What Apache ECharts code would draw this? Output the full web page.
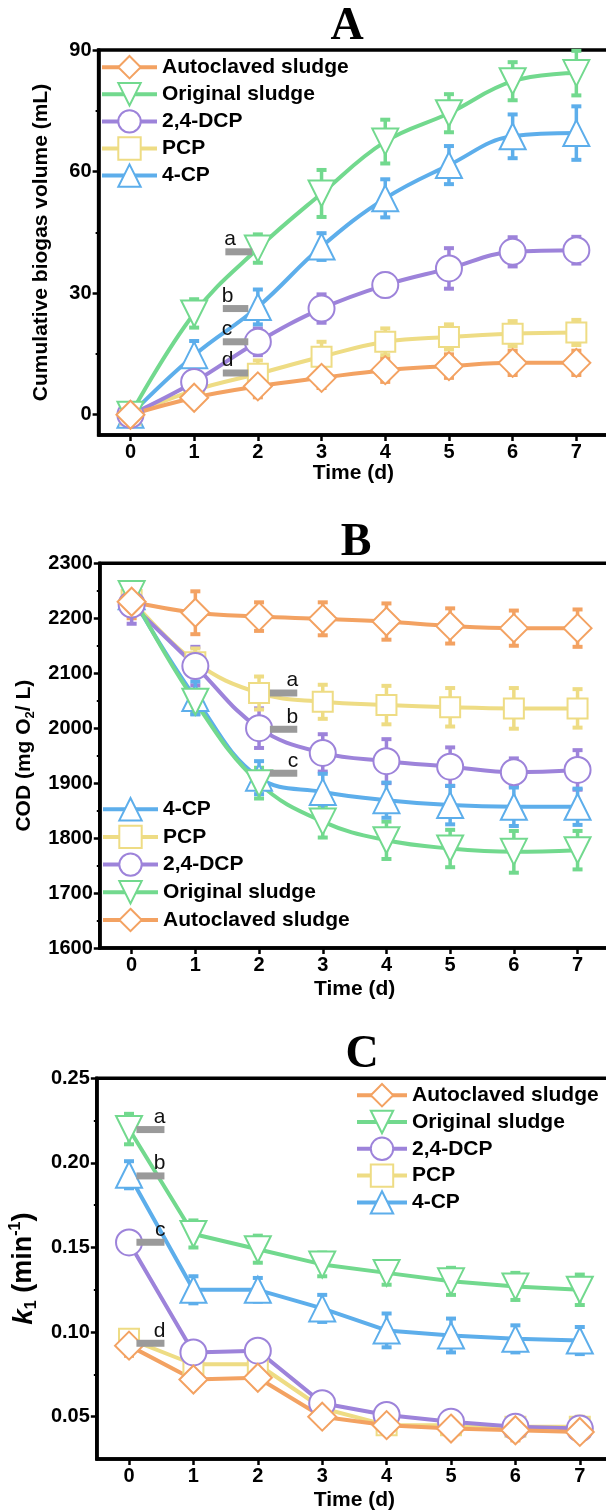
<!DOCTYPE html>
<html>
<head>
<meta charset="utf-8">
<script src="https://cdn.jsdelivr.net/npm/echarts@6/dist/echarts.min.js"></script>
<style>
html,body{margin:0;padding:0;overflow:hidden;background:#fff;}
#chart{width:620px;height:1512px;}
</style>
</head>
<body>
<div id="chart"></div>
<script>
// ---------- data ----------
const days = [0, 1, 2, 3, 4, 5, 6, 7];
const seriesNames = ['Autoclaved sludge', 'Original sludge', '2,4-DCP', 'PCP', '4-CP'];

// Panel A: cumulative biogas volume (mL)
const aAutoclaved    = [0, 4.2, 7.0, 9.1, 11.0, 12.0, 12.8, 12.8];
const aAutoclavedErr = [1.0, 2.0, 2.7, 2.5, 2.9, 2.9, 3.0, 3.0];
const aOriginal      = [0, 25.0, 41.0, 54.6, 67.4, 74.4, 82.3, 84.3];
const aOriginalErr   = [1.0, 3.5, 3.5, 5.8, 5.4, 4.7, 4.7, 5.5];
const aDCP           = [0, 8.1, 18.0, 26.2, 32.0, 36.1, 40.2, 40.6];
const aDCPErr        = [1.0, 3.0, 3.3, 3.5, 2.8, 5.0, 3.6, 3.3];
const aPCP           = [0, 6.0, 10.1, 14.3, 18.0, 19.2, 20.0, 20.3];
const aPCPErr        = [1.0, 2.5, 3.3, 3.7, 3.3, 3.1, 3.1, 3.1];
const aCP            = [0, 14.7, 26.6, 41.5, 53.4, 61.6, 68.7, 69.5];
const aCPErr         = [1.0, 3.5, 4.3, 3.3, 4.7, 4.7, 5.4, 6.6];
const aYTicks        = [0, 30, 60, 90];
const aYMinorTicks   = [15, 45, 75];
const aNoteLetters   = ['a', 'b', 'c', 'd'];
const aNoteY         = [40.2, 26.2, 18.0, 10.3];
const aNoteX1        = [1.49, 1.45, 1.45, 1.45];
const aNoteX2        = [1.91, 1.85, 1.85, 1.85];

// Panel B: COD (mg O2 / L)
const bAutoclaved    = [2230, 2210, 2203, 2199, 2194, 2186, 2182, 2182];
const bAutoclavedErr = [30, 39, 26, 30, 33, 32, 32, 34];
const bOriginal      = [2244, 2048, 1900, 1830, 1796, 1781, 1775, 1778];
const bOriginalErr   = [22, 22, 28, 29, 34, 34, 38, 35];
const bDCP           = [2225, 2113, 2000, 1955, 1940, 1930, 1920, 1924];
const bDCPErr        = [35, 35, 36, 34, 40, 35, 25, 36];
const bPCP           = [2233, 2120, 2064, 2048, 2042, 2038, 2036, 2036];
const bPCPErr        = [25, 25, 30, 31, 35, 35, 37, 35];
const bCP            = [2240, 2055, 1910, 1884, 1869, 1860, 1857, 1857];
const bCPErr         = [20, 30, 30, 33, 32, 35, 35, 33];
const bNoteLetters   = ['a', 'b', 'c'];
const bNoteY         = [2064, 1998, 1918];
const bNoteX1        = [2.17, 2.17, 2.17];
const bNoteX2        = [2.60, 2.60, 2.60];

// Panel C: k1 (min^-1)
const cAutoclaved    = [0.092, 0.072, 0.073, 0.050, 0.045, 0.043, 0.042, 0.041];
const cAutoclavedErr = [0.006, 0.005, 0.005, 0.005, 0.005, 0.005, 0.006, 0.005];
const cOriginal      = [0.220, 0.158, 0.149, 0.140, 0.135, 0.130, 0.127, 0.125];
const cOriginalErr   = [0.009, 0.008, 0.008, 0.007, 0.007, 0.008, 0.008, 0.009];
const cDCP           = [0.153, 0.088, 0.089, 0.058, 0.051, 0.047, 0.044, 0.043];
const cDCPErr        = [0.005, 0.004, 0.004, 0.004, 0.004, 0.005, 0.005, 0.004];
const cPCP           = [0.096, 0.081, 0.081, 0.055, 0.045, 0.045, 0.044, 0.044];
const cPCPErr        = [0.004, 0.004, 0.004, 0.005, 0.005, 0.005, 0.005, 0.006];
const cCP            = [0.193, 0.125, 0.125, 0.114, 0.101, 0.098, 0.096, 0.095];
const cCPErr         = [0.008, 0.008, 0.007, 0.008, 0.010, 0.010, 0.008, 0.008];
const cYTicks        = [0.05, 0.10, 0.15, 0.20, 0.25];
const cYMinorTicks   = [0.075, 0.125, 0.175, 0.225];
const cNoteLetters   = ['a', 'b', 'c', 'd'];
const cNoteY         = [0.2197, 0.1923, 0.1531, 0.0934];
const cNoteX1        = [0.115, 0.115, 0.115, 0.115];
const cNoteX2        = [0.55, 0.55, 0.55, 0.55];

// ---------- styles ----------
const FONT = '"Liberation Sans", Arial, sans-serif';
const styleMap = {
  'Autoclaved sludge': {color: '#F3A262', symbol: 'diamond', size: 28, rotate: 0},
  'Original sludge':   {color: '#72D98E', symbol: 'triangle', size: 26, rotate: 180},
  '2,4-DCP':           {color: '#9D83DA', symbol: 'circle', size: 26, rotate: 0},
  'PCP':               {color: '#EEDC84', symbol: 'rect', size: 20, rotate: 0},
  '4-CP':              {color: '#5DAEEB', symbol: 'triangle', size: 26, rotate: 0}
};

function lineSeries(name, vals, gi, smooth) {
  const s = styleMap[name];
  return {
    type: 'line', name: name, xAxisIndex: gi, yAxisIndex: gi,
    data: days.map((d, i) => [d, vals[i]]),
    smooth: smooth, symbol: s.symbol, symbolSize: s.size, symbolRotate: s.rotate,
    showAllSymbol: true, z: 3,
    lineStyle: {color: s.color, width: 4},
    itemStyle: {color: '#fff', borderColor: s.color, borderWidth: 2},
    emphasis: {disabled: true}, silent: true
  };
}

function errSeries(name, vals, errs, gi) {
  const color = styleMap[name].color;
  return {
    type: 'custom', xAxisIndex: gi, yAxisIndex: gi, silent: true, z: 2,
    data: days.map((d, i) => [d, vals[i], errs[i]]),
    renderItem: function (params, api) {
      const x = api.value(0), y = api.value(1), e = api.value(2);
      const top = api.coord([x, y + e]);
      const bot = api.coord([x, y - e]);
      const w = 5;
      return {
        type: 'group',
        children: [
          {type: 'line', shape: {x1: top[0], y1: top[1], x2: bot[0], y2: bot[1]}, style: {stroke: color, lineWidth: 3.5}},
          {type: 'line', shape: {x1: top[0] - w, y1: top[1], x2: top[0] + w, y2: top[1]}, style: {stroke: color, lineWidth: 4}},
          {type: 'line', shape: {x1: bot[0] - w, y1: bot[1], x2: bot[0] + w, y2: bot[1]}, style: {stroke: color, lineWidth: 4}}
        ]
      };
    }
  };
}

function noteSeries(letters, ys, x1s, x2s, gi, alignRight) {
  return {
    type: 'custom', xAxisIndex: gi, yAxisIndex: gi, silent: true, z: 4,
    data: ys.map((y, i) => [x1s[i], y, x2s[i]]),
    renderItem: function (params, api) {
      const p1 = api.coord([api.value(0), api.value(1)]);
      const p2 = api.coord([api.value(2), api.value(1)]);
      const letter = letters[params.dataIndex];
      return {
        type: 'group',
        children: [
          {type: 'rect', shape: {x: p1[0], y: p1[1] - 3.5, width: p2[0] - p1[0], height: 7}, style: {fill: '#9a9a9a'}},
          {type: 'text', style: {
            text: letter, x: alignRight ? p2[0] + 1 : p1[0] - 1, y: p1[1] - 2,
            align: alignRight ? 'right' : 'left', verticalAlign: 'bottom',
            font: '21px ' + FONT, fill: '#111'
          }}
        ]
      };
    }
  };
}

function xAxisCfg(gi, nameGap) {
  return {
    type: 'value', gridIndex: gi, min: -0.5, max: 7.5,
    axisLine: {show: true, onZero: false, lineStyle: {color: '#000', width: 3.5}},
    axisTick: {show: true, customValues: days, length: 6, inside: false, lineStyle: {color: '#000', width: 2.5}},
    axisLabel: {customValues: days, color: '#000', fontSize: 20, fontWeight: 'bold', fontFamily: FONT, margin: 7},
    splitLine: {show: false},
    name: 'Time (d)', nameLocation: 'middle', nameGap: nameGap,
    nameTextStyle: {color: '#000', fontSize: 21, fontWeight: 'bold', fontFamily: FONT}
  };
}

const axisLineStyle = {show: true, onZero: false, lineStyle: {color: '#000', width: 3.5}};
const legendText = {color: '#000', fontSize: 21, fontWeight: 'bold', fontFamily: FONT};

const option = {
  animation: false,
  backgroundColor: '#fff',
  graphic: [
    {type: 'text', x: 347, y: 27.5, style: {text: 'A', font: 'bold 46px "Liberation Serif", "Times New Roman", serif', fill: '#000', align: 'center', verticalAlign: 'middle'}},
    {type: 'text', x: 356, y: 543, style: {text: 'B', font: 'bold 46px "Liberation Serif", "Times New Roman", serif', fill: '#000', align: 'center', verticalAlign: 'middle'}},
    {type: 'text', x: 362, y: 1055, style: {text: 'C', font: 'bold 46px "Liberation Serif", "Times New Roman", serif', fill: '#000', align: 'center', verticalAlign: 'middle'}}
  ],
  grid: [
    {left: 98.6, top: 50, width: 509.6, height: 385, show: true, borderColor: '#000', borderWidth: 3.5, backgroundColor: 'transparent'},
    {left: 99.8, top: 563.3, width: 509.6, height: 384.7, show: true, borderColor: '#000', borderWidth: 3.5, backgroundColor: 'transparent'},
    {left: 96, top: 1078.3, width: 516, height: 383.4, show: true, borderColor: '#000', borderWidth: 3.5, backgroundColor: 'transparent'}
  ],
  xAxis: [xAxisCfg(0, 28), xAxisCfg(1, 31), xAxisCfg(2, 31)],
  yAxis: [
    {
      type: 'value', gridIndex: 0, min: -5, max: 90,
      axisLine: axisLineStyle,
      axisTick: {show: true, customValues: aYTicks, length: 6, lineStyle: {color: '#000', width: 2.5}},
      axisLabel: {customValues: aYTicks, color: '#000', fontSize: 20, fontWeight: 'bold', fontFamily: FONT, margin: 7},
      splitLine: {show: false},
      name: 'Cumulative biogas volume (mL)', nameLocation: 'middle', nameGap: 47,
      nameTextStyle: {color: '#000', fontSize: 21, fontWeight: 'bold', fontFamily: FONT}
    },
    {
      type: 'value', gridIndex: 1, min: 1600, max: 2300, interval: 100,
      axisLine: axisLineStyle,
      axisTick: {show: true, length: 6, lineStyle: {color: '#000', width: 2.5}},
      minorTick: {show: true, splitNumber: 2, length: 3, lineStyle: {color: '#000', width: 2}},
      axisLabel: {color: '#000', fontSize: 20, fontWeight: 'bold', fontFamily: FONT, margin: 7, formatter: v => String(v)},
      splitLine: {show: false},
      name: '{t|COD (mg O}{sub|2}{t|/ L)}', nameLocation: 'middle', nameGap: 58,
      nameTextStyle: {
        color: '#000', fontSize: 21, fontWeight: 'bold', fontFamily: FONT,
        rich: {
          t: {fontSize: 21, fontWeight: 'bold', fontFamily: FONT, color: '#000', lineHeight: 26},
          sub: {fontSize: 13, fontWeight: 'bold', fontFamily: FONT, color: '#000', verticalAlign: 'bottom', lineHeight: 26}
        }
      }
    },
    {
      type: 'value', gridIndex: 2, min: 0.025, max: 0.25,
      axisLine: axisLineStyle,
      axisTick: {show: true, customValues: cYTicks, length: 6, lineStyle: {color: '#000', width: 2.5}},
      axisLabel: {customValues: cYTicks, color: '#000', fontSize: 20, fontWeight: 'bold', fontFamily: FONT, margin: 7,
        formatter: v => Number(v).toFixed(2)},
      splitLine: {show: false},
      name: '{k|k}{sub|1}{t| (min}{sup|-1}{t|)}', nameLocation: 'middle', nameGap: 44,
      nameTextStyle: {
        color: '#000', fontSize: 27, fontWeight: 'bold', fontFamily: FONT,
        rich: {
          k: {fontSize: 28, fontWeight: 'bold', fontStyle: 'italic', fontFamily: FONT, color: '#000', lineHeight: 32},
          t: {fontSize: 27, fontWeight: 'bold', fontFamily: FONT, color: '#000', lineHeight: 32},
          sub: {fontSize: 16, fontWeight: 'bold', fontFamily: FONT, color: '#000', verticalAlign: 'bottom', lineHeight: 32},
          sup: {fontSize: 16, fontWeight: 'bold', fontFamily: FONT, color: '#000', verticalAlign: 'top', lineHeight: 32}
        }
      }
    },
    // minor tick helper axes
    {
      type: 'value', gridIndex: 0, min: -5, max: 90, position: 'left', offset: 0,
      axisLine: {show: false, onZero: false}, axisLabel: {show: false}, splitLine: {show: false},
      axisTick: {show: true, customValues: aYMinorTicks, length: 3, lineStyle: {color: '#000', width: 2}}
    },
    {
      type: 'value', gridIndex: 2, min: 0.025, max: 0.25, position: 'left', offset: 0,
      axisLine: {show: false, onZero: false}, axisLabel: {show: false}, splitLine: {show: false},
      axisTick: {show: true, customValues: cYMinorTicks, length: 3, lineStyle: {color: '#000', width: 2}}
    }
  ],
  legend: [
    {
      data: seriesNames, orient: 'vertical', left: 95, top: 50,
      itemWidth: 55, itemHeight: 28, itemGap: 2.7,
      lineStyle: {width: 4}, itemStyle: {borderWidth: 2},
      textStyle: legendText, selectedMode: false
    },
    {
      data: ['4-CP', 'PCP', '2,4-DCP', 'Original sludge', 'Autoclaved sludge'], orient: 'vertical', left: 96, top: 792,
      itemWidth: 55, itemHeight: 28, itemGap: 3.3,
      lineStyle: {width: 4}, itemStyle: {borderWidth: 2},
      textStyle: legendText, selectedMode: false
    },
    {
      data: seriesNames, orient: 'vertical', left: 350, top: 1078,
      itemWidth: 50, itemHeight: 28, itemGap: 2.4,
      lineStyle: {width: 4}, itemStyle: {borderWidth: 2},
      textStyle: legendText, selectedMode: false
    }
  ],
  series: []
};

const panels = [
  {gi: 0, smooth: 0.4, vals: [aAutoclaved, aOriginal, aDCP, aPCP, aCP], errs: [aAutoclavedErr, aOriginalErr, aDCPErr, aPCPErr, aCPErr]},
  {gi: 1, smooth: 0.4, vals: [bAutoclaved, bOriginal, bDCP, bPCP, bCP], errs: [bAutoclavedErr, bOriginalErr, bDCPErr, bPCPErr, bCPErr]},
  {gi: 2, smooth: false, vals: [cAutoclaved, cOriginal, cDCP, cPCP, cCP], errs: [cAutoclavedErr, cOriginalErr, cDCPErr, cPCPErr, cCPErr]}
];
panels.forEach(p => {
  seriesNames.forEach((n, i) => option.series.push(errSeries(n, p.vals[i], p.errs[i], p.gi)));
  // draw order: 4-CP, PCP, 2,4-DCP, Original, Autoclaved (autoclaved on top)
  [4, 3, 2, 1, 0].forEach(i => option.series.push(lineSeries(seriesNames[i], p.vals[i], p.gi, p.smooth)));
});
option.series.push(noteSeries(aNoteLetters, aNoteY, aNoteX1, aNoteX2, 0, false));
option.series.push(noteSeries(bNoteLetters, bNoteY, bNoteX1, bNoteX2, 1, true));
option.series.push(noteSeries(cNoteLetters, cNoteY, cNoteX1, cNoteX2, 2, true));

const chart = echarts.init(document.getElementById('chart'), null, {renderer: 'canvas'});
chart.setOption(option);
</script>
</body>
</html>
